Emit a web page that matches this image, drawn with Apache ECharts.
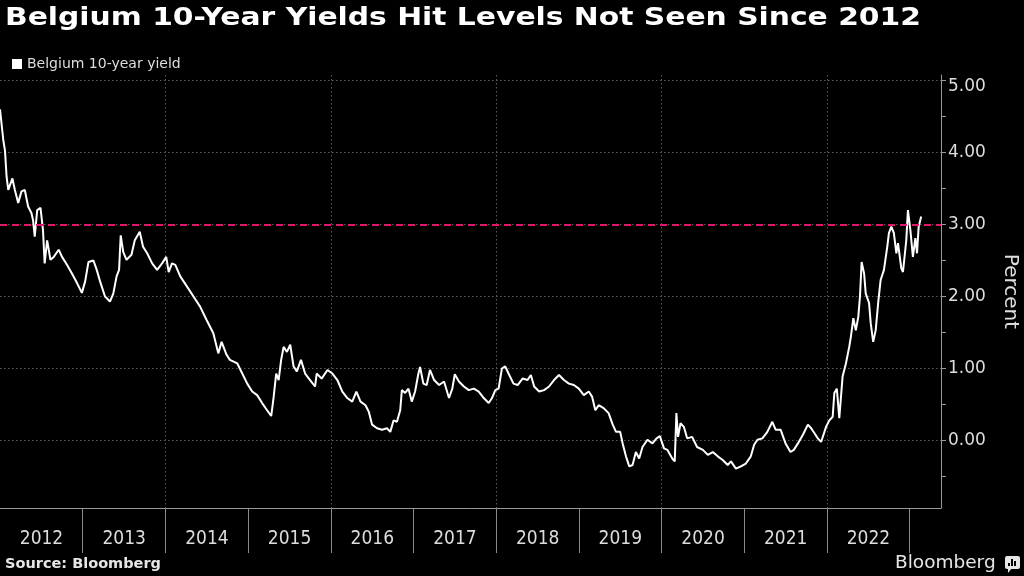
<!DOCTYPE html>
<html><head><meta charset="utf-8">
<script src="https://cdn.jsdelivr.net/npm/echarts@6/dist/echarts.min.js"></script>
<style>html,body{margin:0;padding:0;background:#000;}#c{width:1024px;height:576px;}</style>
</head><body><div id="c"></div>
<script>
// Decimal years (2012.00 = 1 Jan 2012)
const years = [
2012.00,2012.04,2012.06,2012.08,2012.10,2012.15,2012.18,2012.22,2012.26,2012.30,2012.34,2012.38,2012.40,2012.42,2012.45,2012.49,2012.52,2012.54,2012.57,2012.61,2012.65,2012.71,2012.75,2012.81,2012.87,2012.93,2012.99,
2013.03,2013.07,2013.13,2013.17,2013.21,2013.27,2013.33,2013.37,2013.41,2013.44,2013.46,2013.49,2013.53,2013.59,2013.63,2013.69,2013.73,2013.78,2013.84,2013.90,2013.96,
2014.01,2014.04,2014.08,2014.12,2014.18,2014.26,2014.34,2014.42,2014.50,2014.58,2014.64,2014.68,2014.74,2014.78,2014.87,2014.93,2014.99,
2015.05,2015.11,2015.17,2015.23,2015.28,2015.31,2015.34,2015.37,2015.40,2015.43,2015.47,2015.51,2015.55,2015.59,2015.64,2015.69,2015.75,2015.81,2015.83,2015.89,2015.96,
2016.02,2016.08,2016.14,2016.20,2016.26,2016.31,2016.36,2016.42,2016.46,2016.50,2016.56,2016.62,2016.68,2016.72,2016.76,2016.80,2016.84,2016.86,2016.90,2016.94,2016.98,
2017.02,2017.06,2017.08,2017.12,2017.16,2017.20,2017.25,2017.31,2017.37,2017.43,2017.47,2017.50,2017.55,2017.61,2017.67,2017.73,2017.79,2017.85,2017.91,2017.95,2017.99,
2018.03,2018.07,2018.11,2018.15,2018.21,2018.26,2018.32,2018.38,2018.42,2018.46,2018.52,2018.58,2018.64,2018.70,2018.76,2018.82,2018.88,2018.94,
2019.00,2019.06,2019.08,2019.12,2019.16,2019.20,2019.24,2019.30,2019.36,2019.41,2019.45,2019.50,2019.53,2019.57,2019.61,2019.65,2019.69,2019.73,2019.77,2019.83,2019.89,2019.94,2019.98,
2020.03,2020.07,2020.13,2020.16,2020.18,2020.20,2020.23,2020.27,2020.31,2020.37,2020.43,2020.50,2020.56,2020.62,2020.68,2020.74,2020.80,2020.84,2020.90,2020.96,
2021.02,2021.08,2021.12,2021.16,2021.22,2021.28,2021.34,2021.38,2021.44,2021.50,2021.56,2021.60,2021.65,2021.71,2021.77,2021.81,2021.85,2021.89,2021.93,2021.95,2021.99,
2022.03,2022.07,2022.09,2022.12,2022.15,2022.19,2022.23,2022.27,2022.29,2022.32,2022.35,2022.38,2022.40,2022.42,2022.45,2022.47,2022.51,2022.53,2022.56,2022.59,2022.62,2022.65,2022.69,2022.73,2022.75,2022.78,2022.81,2022.84,2022.86,2022.90,2022.92,2022.96,2022.98,
2023.01,2023.04,2023.07,2023.09,2023.11,2023.14
];
// Belgium 10-year yield, percent
const yields = [
4.60,4.17,4.03,3.66,3.48,3.64,3.48,3.30,3.46,3.48,3.25,3.16,3.06,2.83,3.20,3.23,2.92,2.46,2.78,2.51,2.55,2.65,2.55,2.44,2.32,2.19,2.05,
2.21,2.48,2.50,2.37,2.21,2.00,1.93,2.04,2.28,2.37,2.85,2.62,2.51,2.58,2.78,2.90,2.69,2.60,2.46,2.37,2.46,
2.55,2.34,2.46,2.44,2.28,2.14,2.00,1.86,1.67,1.49,1.21,1.37,1.19,1.12,1.07,0.93,0.79,
0.68,0.63,0.52,0.42,0.34,0.61,0.93,0.84,1.12,1.30,1.23,1.33,1.03,0.96,1.12,0.93,0.84,0.75,0.93,0.86,0.98,
0.93,0.84,0.68,0.59,0.54,0.68,0.54,0.49,0.40,0.22,0.17,0.15,0.17,0.12,0.28,0.26,0.42,0.70,0.66,0.72,0.54,
0.68,0.93,1.02,0.79,0.77,0.98,0.84,0.77,0.82,0.59,0.72,0.92,0.82,0.75,0.70,0.72,0.68,0.59,0.52,0.59,0.70,
0.72,1.00,1.03,0.93,0.79,0.77,0.86,0.84,0.91,0.75,0.68,0.70,0.75,0.84,0.91,0.84,0.79,0.77,
0.72,0.63,0.61,0.68,0.61,0.42,0.49,0.45,0.38,0.22,0.12,0.12,-0.04,-0.22,-0.36,-0.34,-0.16,-0.25,-0.09,0.01,-0.04,0.03,0.06,
-0.11,-0.13,-0.25,-0.29,0.38,0.05,0.24,0.19,0.03,0.05,-0.09,-0.13,-0.20,-0.16,-0.22,-0.27,-0.34,-0.29,-0.39,-0.36,
-0.32,-0.22,-0.06,0.01,0.03,0.12,0.26,0.15,0.15,-0.04,-0.16,-0.13,-0.04,0.08,0.22,0.17,0.10,0.03,-0.02,-0.04,0.19,
0.28,0.33,0.66,0.72,0.31,0.89,1.07,1.30,1.44,1.70,1.53,1.72,2.00,2.48,2.32,2.04,1.91,1.63,1.37,1.53,1.91,2.23,2.37,2.69,2.88,2.97,2.88,2.60,2.74,2.39,2.34,2.78,3.20,
2.92,2.55,2.81,2.60,2.97,3.11
];
const yearLabels = [2012,2013,2014,2015,2016,2017,2018,2019,2020,2021,2022];
const yearBreaks = [2013,2014,2015,2016,2017,2018,2019,2020,2021,2022,2023];
const yTickLabels = [0,1,2,3,4,5];
const yHalfTicks = [-0.5,0,0.5,1,1.5,2,2.5,3,3.5,4,4.5,5];
const referenceLevel = 3;
const seriesName = 'Belgium 10-year yield';
const titleText = 'Belgium 10-Year Yields Hit Levels Not Seen Since 2012';

const X_MIN = 2012, X_MAX = 2023.38, Y_MIN = -0.9375, Y_MAX = 5.0764;
const FONT = '"DejaVu Sans", Verdana, sans-serif';
const NARROW = '"Liberation Sans Narrow", "DejaVu Sans Condensed", "Arial Narrow", sans-serif';
const GREY = '#9a9a9a';

const chart = echarts.init(document.getElementById('c'));
chart.setOption({
  backgroundColor: '#000',
  animation: false,
  textStyle: { fontFamily: FONT },
  graphic: [
    { type: 'text', x: 5, y: 19, scaleX: 1.24,
      style: { text: titleText, fill: '#ffffff', font: 'bold 24px ' + FONT, verticalAlign: 'middle' } },
    { type: 'text', x: 5, y: 564,
      style: { text: 'Source: Bloomberg', fill: '#e6e6e6', font: 'bold 14.5px ' + FONT, verticalAlign: 'middle' } },
    { type: 'text', x: 895, y: 563,
      style: { text: 'Bloomberg', fill: '#e6e6e6', font: '18.5px ' + FONT, verticalAlign: 'middle' } },
    { type: 'group', children: [
      { type: 'rect', shape: { x: 1005, y: 556, width: 15, height: 13, r: 2 }, style: { fill: '#e6e6e6' } },
      { type: 'polygon', shape: { points: [[1008,568],[1012,568],[1008,573]] }, style: { fill: '#e6e6e6' } },
      { type: 'rect', shape: { x: 1008, y: 563, width: 2, height: 3 }, style: { fill: '#000' } },
      { type: 'rect', shape: { x: 1011, y: 559, width: 2, height: 7 }, style: { fill: '#000' } },
      { type: 'rect', shape: { x: 1014, y: 561, width: 2, height: 5 }, style: { fill: '#000' } }
    ]}
  ],
  legend: {
    data: [seriesName], left: 7, top: 52, icon: 'rect', itemWidth: 10, itemHeight: 10,
    textStyle: { color: '#dddddd', fontSize: 14, fontFamily: FONT }, selectedMode: false
  },
  grid: { left: 0, right: 83, top: 75, bottom: 68, containLabel: false, outerBoundsMode: 'none' },
  xAxis: [
    { type: 'value', min: X_MIN, max: X_MAX, interval: 2,
      axisLine: { show: true, onZero: false, lineStyle: { color: GREY, width: 1 } },
      axisTick: { show: false }, axisLabel: { show: false },
      splitLine: { show: true, showMinLine: false, showMaxLine: false, lineStyle: { color: '#5a5a5a', type: [1.5, 2.5], width: 1 } } },
    { type: 'value', min: X_MIN, max: X_MAX, interval: 1, position: 'bottom',
      axisLine: { show: false, onZero: false }, splitLine: { show: false },
      axisTick: { show: true, customValues: yearBreaks, length: 45, lineStyle: { color: '#8a8a8a', width: 1 } },
      axisLabel: { show: true, customValues: yearLabels, margin: 22,
        formatter: v => (Number.isInteger(v) && v <= 2022) ? '{y|' + v + '}' : '',
        rich: { y: { padding: [0, 0, 0, 83], fontSize: 19, color: '#dddddd', fontFamily: NARROW } } } }
  ],
  yAxis: [
    { type: 'value', position: 'right', min: Y_MIN, max: Y_MAX,
      axisLine: { show: true, onZero: false, lineStyle: { color: GREY, width: 1 } },
      axisTick: { show: false },
      axisLabel: { show: true, customValues: yTickLabels, margin: 7, color: '#dddddd', fontSize: 17, fontFamily: FONT,
        formatter: v => (Math.abs(v - Math.round(v)) < 1e-6 && v >= 0 && v <= 5) ? (v === 5 ? '{t|5.00}' : v.toFixed(2)) : '',
        rich: { t: { padding: [12, 0, 0, 0], color: '#dddddd', fontSize: 17, fontFamily: FONT } } },
      splitLine: { show: true, showMinLine: false, showMaxLine: false, lineStyle: { color: '#5a5a5a', type: [1.5, 2.5], width: 1 } },
      name: 'Percent', nameLocation: 'middle', nameRotate: -90, nameGap: 59,
      nameTextStyle: { color: '#dddddd', fontSize: 20, fontFamily: FONT } },
    { type: 'value', position: 'right', min: Y_MIN, max: Y_MAX,
      axisLine: { show: false, onZero: false }, axisLabel: { show: false }, splitLine: { show: false },
      axisTick: { show: true, customValues: yHalfTicks, length: 5, lineStyle: { color: GREY, width: 1 } } }
  ],
  series: [{
    name: seriesName, type: 'line', xAxisIndex: 0, yAxisIndex: 0,
    data: years.map((t, i) => [t, yields[i]]),
    showSymbol: false, symbol: 'none', color: '#ffffff',
    lineStyle: { color: '#ffffff', width: 2 },
    markLine: { silent: true, symbol: ['none', 'none'], label: { show: false },
      lineStyle: { color: '#e0186c', type: [7, 5], width: 2 },
      data: [{ yAxis: referenceLevel }] }
  }]
});
</script></body></html>
